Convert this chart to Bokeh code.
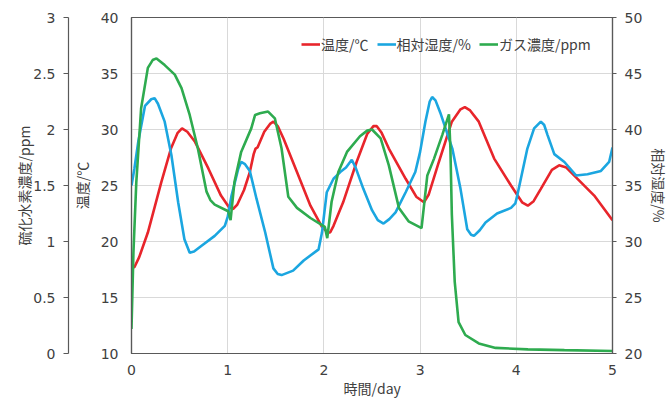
from bokeh.plotting import figure
from bokeh.models import LinearAxis, Range1d, FixedTicker, Legend, LegendItem
from bokeh.embed import file_html
from bokeh.resources import INLINE

# ---- data ----
temp_day = [0.0, 0.03, 0.08, 0.17, 0.31, 0.41, 0.48, 0.525, 0.58, 0.66, 0.80, 0.93, 1.01, 1.055,
            1.10, 1.17, 1.23, 1.27, 1.29, 1.31, 1.38, 1.44, 1.475, 1.52, 1.58, 1.72, 1.86, 1.98,
            2.04, 2.065, 2.10, 2.20, 2.34, 2.45, 2.515, 2.55, 2.60, 2.675, 2.85, 2.96, 3.04, 3.09,
            3.195, 3.33, 3.42, 3.465, 3.52, 3.61, 3.77, 3.945, 4.06, 4.12, 4.18, 4.255, 4.37,
            4.445, 4.52, 4.60, 4.81, 5.0]
temp_val = [17.7, 17.7, 18.6, 20.8, 25.3, 28.3, 29.7, 30.1, 29.8, 28.9, 26.5, 24.1, 23.1, 22.9,
            23.3, 24.6, 26.2, 27.8, 28.3, 28.4, 29.8, 30.5, 30.7, 30.3, 29.2, 26.2, 23.2, 21.3,
            20.8, 20.8, 21.4, 23.5, 27.1, 29.6, 30.3, 30.3, 29.7, 28.3, 25.6, 24.0, 23.5, 24.2,
            27.1, 30.7, 31.8, 32.0, 31.7, 30.7, 27.4, 25.0, 23.5, 23.2, 23.6, 24.7, 26.4,
            26.8, 26.6, 25.9, 24.1, 21.9]

hum_day = [0.0, 0.03, 0.07, 0.14, 0.205, 0.24, 0.275, 0.345, 0.415, 0.485, 0.55, 0.605, 0.65,
           0.725, 0.865, 0.97, 1.00, 1.04, 1.11, 1.14, 1.18, 1.23, 1.30, 1.39, 1.475, 1.52, 1.56,
           1.68, 1.79, 1.945, 1.98, 2.03, 2.10, 2.17, 2.23, 2.29, 2.33, 2.41, 2.50, 2.56, 2.62,
           2.68, 2.745, 2.85, 2.95, 3.00, 3.055, 3.10, 3.125, 3.16, 3.21, 3.335, 3.42, 3.49,
           3.53, 3.56, 3.62, 3.68, 3.80, 3.945, 3.99, 4.01, 4.115, 4.185, 4.255, 4.29, 4.325,
           4.395, 4.50, 4.62, 4.74, 4.88, 4.965, 5.0]
hum_val = [35.0, 36.5, 38.9, 42.1, 42.7, 42.8, 42.3, 40.7, 37.7, 33.5, 30.2, 29.0, 29.1,
           29.6, 30.5, 31.4, 32.2, 34.1, 36.5, 37.1, 36.9, 36.3, 33.8, 30.8, 27.6, 27.1, 27.0,
           27.4, 28.3, 29.3, 30.8, 34.4, 35.6, 36.2, 36.6, 37.3, 36.6, 34.7, 32.8, 31.9, 31.6,
           32.0, 32.6, 34.4, 36.2, 38.0, 40.7, 42.5, 42.9, 42.6, 41.5, 38.3, 34.7, 31.1,
           30.6, 30.5, 31.0, 31.7, 32.5, 33.0, 33.4, 34.1, 38.3, 40.1, 40.7, 40.4, 39.5,
           37.8, 37.1, 35.9, 36.0, 36.3, 37.1, 38.4]

gas_day = [0.0, 0.02, 0.05, 0.10, 0.17, 0.22, 0.26, 0.345, 0.45, 0.52, 0.605, 0.69, 0.78, 0.82,
           0.865, 1.005, 1.03, 1.07, 1.14, 1.245, 1.285, 1.335, 1.42, 1.49, 1.56, 1.63, 1.72,
           1.86, 2.01, 2.035, 2.08, 2.15, 2.24, 2.375, 2.45, 2.50, 2.59, 2.675, 2.78, 2.88,
           3.015, 3.075, 3.145, 3.23, 3.30, 3.315, 3.33, 3.36, 3.40, 3.47, 3.61, 3.785, 4.12,
           4.5, 5.0]
gas_val = [0.22, 0.9, 1.53, 2.19, 2.55, 2.62, 2.635, 2.575, 2.49, 2.37, 2.13, 1.83, 1.445, 1.37,
           1.33, 1.27, 1.19, 1.53, 1.80, 2.01, 2.13, 2.145, 2.16, 2.10, 1.83, 1.40, 1.30,
           1.21, 1.13, 1.03, 1.355, 1.62, 1.80, 1.94, 1.99, 2.00, 1.92, 1.68, 1.30, 1.18,
           1.12, 1.59, 1.74, 1.95, 2.135, 1.83, 1.24, 0.64, 0.28, 0.165, 0.09, 0.05, 0.037,
           0.03, 0.022]

x_ticks = [0, 1, 2, 3, 4, 5]
temp_ticks = [10, 15, 20, 25, 30, 35, 40]
hum_ticks = [20, 25, 30, 35, 40, 45, 50]
gas_ticks = [0, 0.5, 1, 1.5, 2, 2.5, 3]
gas_tick_labels = ["0", "0.5", "1", "1.5", "2", "2.5", "3"]

series_names = ["温度/℃", "相対湿度/%", "ガス濃度/ppm"]
x_title = "時間/day"
temp_title = "温度/℃"
hum_title = "相対湿度/%"
gas_title = "硫化水素濃度/ppm"

RED, BLUE, GREEN = "#E8252B", "#1BA6E0", "#2EAB4F"
AX = "#595959"
TXT = "#404040"
NUM_FONT = "DejaVu Sans"
JP_FONT = "Noto Sans CJK JP"

p = figure(frame_width=481, frame_height=336, output_backend="svg", toolbar_location=None,
           x_range=Range1d(0, 5), y_range=Range1d(10, 40),
           min_border_left=131, min_border_right=57, min_border_top=17, min_border_bottom=48)
p.extra_y_ranges = {"hum": Range1d(20, 50), "gas": Range1d(0, 3)}

p.outline_line_color = AX
p.outline_line_width = 1.2
p.background_fill_color = "white"
p.border_fill_color = "white"

# grids
p.xgrid.ticker = FixedTicker(ticks=x_ticks)
p.ygrid.ticker = FixedTicker(ticks=temp_ticks)
for g in (p.xgrid, p.ygrid):
    g.grid_line_color = "#D9D9D9"
    g.grid_line_width = 1

def style_axis(ax):
    ax.axis_line_color = AX
    ax.axis_line_width = 1.2
    ax.major_tick_line_color = AX
    ax.minor_tick_line_color = None
    ax.minor_tick_out = 0
    ax.minor_tick_in = 0
    ax.major_tick_in = 0
    ax.major_label_text_font = NUM_FONT
    ax.major_label_text_font_size = "14px"
    ax.major_label_text_color = TXT
    ax.axis_label_text_font = JP_FONT
    ax.axis_label_text_font_size = "14px"
    ax.axis_label_text_font_style = "normal"
    ax.axis_label_text_color = TXT

def spacer_axis(size):
    s = LinearAxis(y_range_name="gas", ticker=FixedTicker(ticks=[]))
    s.axis_line_color = None
    s.major_tick_line_color = None
    s.minor_tick_line_color = None
    s.major_tick_out = size
    s.minor_tick_out = 0
    return s

# x axis
xa = p.xaxis[0]
style_axis(xa)
xa.ticker = FixedTicker(ticks=x_ticks)
xa.major_tick_line_color = None
xa.major_tick_out = 0
xa.major_label_standoff = 11
xa.axis_label = x_title
xa.axis_label_standoff = 0

# inner left axis (temperature)
ya = p.yaxis[0]
style_axis(ya)
ya.ticker = FixedTicker(ticks=temp_ticks)
ya.major_tick_line_color = None
ya.major_tick_out = 0
ya.major_label_standoff = 13
ya.axis_label = temp_title
ya.axis_label_standoff = 6

# gap between the two left axes
p.add_layout(spacer_axis(10), "left")

# outer left axis (H2S)
ga = LinearAxis(y_range_name="gas")
style_axis(ga)
ga.ticker = FixedTicker(ticks=gas_ticks)
ga.major_label_overrides = {t: s for t, s in zip(gas_ticks, gas_tick_labels)}
ga.major_tick_out = 5
ga.major_label_standoff = 8
ga.axis_label = gas_title
ga.axis_label_standoff = -4
p.add_layout(ga, "left")

# outermost filler so the H2S axis keeps its natural size
p.add_layout(spacer_axis(1), "left")

# right axis (humidity)
ha = LinearAxis(y_range_name="hum")
style_axis(ha)
ha.ticker = FixedTicker(ticks=hum_ticks)
ha.major_tick_out = 4
ha.major_label_standoff = 8
ha.axis_label = hum_title
ha.axis_label_standoff = 4
p.add_layout(ha, "right")

# lines
r_t = p.line(temp_day, temp_val, line_color=RED, line_width=2.6)
r_h = p.line(hum_day, hum_val, line_color=BLUE, line_width=2.6, y_range_name="hum")
r_g = p.line(gas_day, gas_val, line_color=GREEN, line_width=2.6, y_range_name="gas")

legend = Legend(items=[LegendItem(label=series_names[0], renderers=[r_t]),
                       LegendItem(label=series_names[1], renderers=[r_h]),
                       LegendItem(label=series_names[2], renderers=[r_g])],
                orientation="horizontal", location=(170, 299))
legend.border_line_color = None
legend.background_fill_alpha = 0
legend.label_text_font = JP_FONT
legend.label_text_font_size = "14px"
legend.label_text_color = TXT
legend.glyph_width = 19
legend.label_standoff = 1
legend.spacing = 8
legend.margin = 0
legend.padding = 5
legend.label_height = 20
legend.glyph_height = 20
p.add_layout(legend, "center")

open("out.html", "w").write(file_html(p, INLINE))
